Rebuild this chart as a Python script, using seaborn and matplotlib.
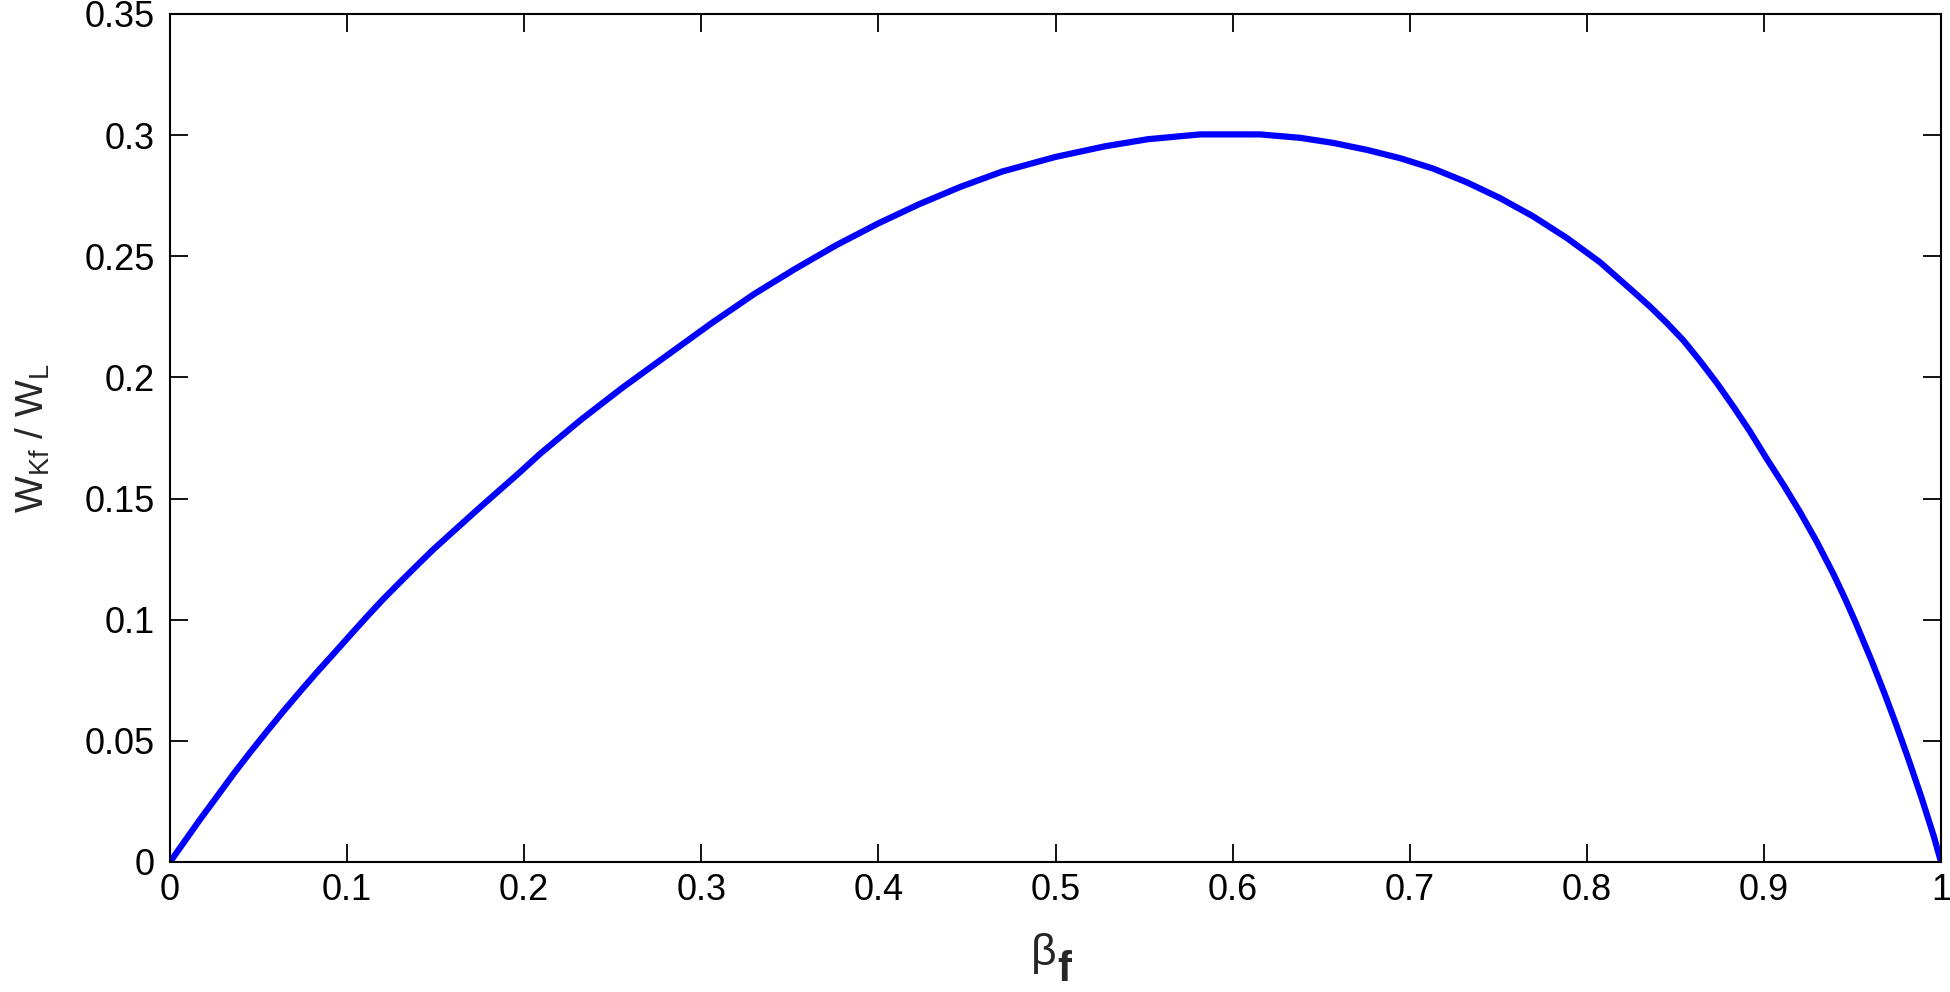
import matplotlib
matplotlib.use("Agg")
import matplotlib.pyplot as plt
import seaborn as sns
import pandas as pd

beta_f = [0, 0.0169, 0.0264, 0.0357, 0.0452, 0.0546, 0.064, 0.0734, 0.0828, 0.0922,
          0.1016, 0.1111, 0.1204, 0.1299, 0.1393, 0.1487, 0.162, 0.176, 0.197, 0.209,
          0.232, 0.255, 0.271, 0.306, 0.33, 0.353, 0.376, 0.4, 0.423, 0.4465,
          0.47, 0.5, 0.528, 0.552, 0.5816, 0.6155, 0.638, 0.6567, 0.6759, 0.6945,
          0.7132, 0.7323, 0.751, 0.7696, 0.7888, 0.8075, 0.8272, 0.8357, 0.8451, 0.8545,
          0.8639, 0.8733, 0.8827, 0.8921, 0.9016, 0.911, 0.9204, 0.9298, 0.9392, 0.9458,
          0.9515, 0.961, 0.968, 0.975, 0.982, 0.989, 0.996, 1.0]
w_ratio = [0, 0.0175, 0.0269, 0.0362, 0.0452, 0.0538, 0.0622, 0.0703, 0.0782, 0.0858,
           0.0935, 0.1012, 0.1085, 0.1155, 0.1223, 0.129, 0.1378, 0.147, 0.1605, 0.1685,
           0.1825, 0.1955, 0.204, 0.2225, 0.2345, 0.2448, 0.2545, 0.2636, 0.2715, 0.2787,
           0.285, 0.291, 0.2954, 0.2983, 0.3003, 0.3003, 0.2989, 0.2968, 0.2939, 0.2905,
           0.2862, 0.2805, 0.2740, 0.2665, 0.2575, 0.2475, 0.2348, 0.2292, 0.2225, 0.2153,
           0.2068, 0.1978, 0.1880, 0.1777, 0.1664, 0.1557, 0.1444, 0.1322, 0.1189, 0.1087,
           0.0993, 0.0827, 0.0697, 0.0560, 0.0416, 0.0265, 0.0104, 0]

x_ticks = [0, 0.1, 0.2, 0.3, 0.4, 0.5, 0.6, 0.7, 0.8, 0.9, 1]
x_tick_labels = ["0", "0.1", "0.2", "0.3", "0.4", "0.5", "0.6", "0.7", "0.8", "0.9", "1"]
y_ticks = [0, 0.05, 0.1, 0.15, 0.2, 0.25, 0.3, 0.35]
y_tick_labels = ["0", "0.05", "0.1", "0.15", "0.2", "0.25", "0.3", "0.35"]

df = pd.DataFrame({"beta": beta_f, "w": w_ratio})

sns.set_style("ticks")
plt.rcParams["font.family"] = ["Liberation Sans", "DejaVu Sans"]
plt.rcParams["mathtext.fontset"] = "custom"
plt.rcParams["mathtext.rm"] = "Liberation Sans"
plt.rcParams["mathtext.it"] = "Liberation Sans:italic"
plt.rcParams["mathtext.bf"] = "Liberation Sans:bold"

fig = plt.figure(figsize=(19.5, 9.92), dpi=100)
ax = fig.add_axes([0.0872, 0.1311, 0.9082, 0.8548])

sns.lineplot(data=df, x="beta", y="w", ax=ax, color=(0, 0, 1), linewidth=4.5,
             sort=False, estimator=None)

ax.set_xlim(0, 1)
ax.set_ylim(0, 0.35)
ax.set_xticks(x_ticks)
ax.set_xticklabels(x_tick_labels)
ax.set_yticks(y_ticks)
ax.set_yticklabels(y_tick_labels)
ax.tick_params(axis="x", which="both", direction="in", length=13, width=1.3,
               top=True, labelsize=26, colors="black", pad=8)
ax.tick_params(axis="y", which="both", direction="in", length=13, width=1.3,
               right=True, labelsize=26, colors="black", pad=11)
for s in ax.spines.values():
    s.set_visible(True)
    s.set_linewidth(1.5)
    s.set_color("black")

ax.set_xlabel("")
ax.set_ylabel(r"$\mathrm{W_{Kf}\ /\ W_L}$", fontsize=28)
ax.yaxis.set_label_coords(-0.0666, 0.5)

ax.text(0.4935, -0.1215, "\u03b2", transform=ax.transAxes, ha="center",
        va="baseline", fontsize=32)
ax.text(0.501, -0.151, "f", transform=ax.transAxes, ha="left",
        va="bottom", fontsize=30, fontweight="bold")

fig.savefig("out.png", dpi=100, facecolor="white")
